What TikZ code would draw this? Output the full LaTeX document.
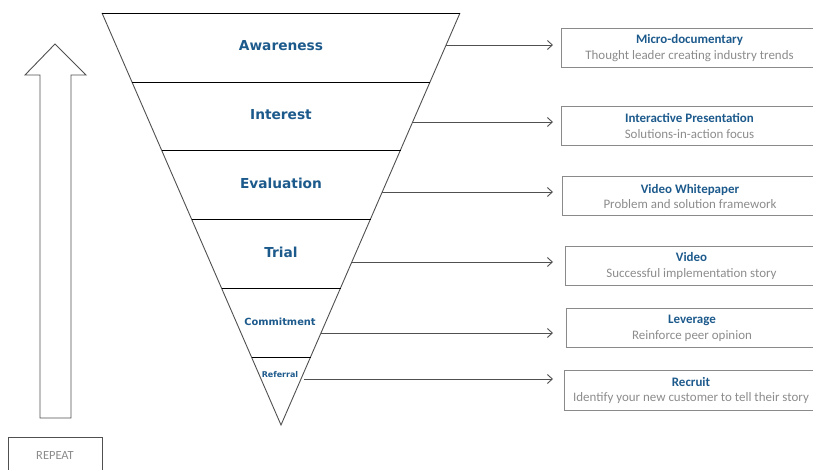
\documentclass[tikz,border=0pt]{standalone}
\usepackage{fontspec}
\setmainfont{Carlito}
\newfontfamily\stagefont{DejaVu Sans}
\usetikzlibrary{arrows.meta}
\definecolor{stageblue}{HTML}{1D5A8C}
\definecolor{softgray}{HTML}{8C8C8C}
\definecolor{boxgray}{HTML}{8A8A8A}
\definecolor{edgegray}{HTML}{505050}
\begin{document}
\begin{tikzpicture}[x=1bp,y=-1bp,
  stage/.style={font=\stagefont\bfseries\fontsize{#1}{#1}\selectfont, text=stageblue, inner sep=0pt},
  tactic/.style={draw=boxgray, line width=1bp, minimum width=#1, minimum height=39bp,
    anchor=west, align=center, inner sep=0pt, font=\fontsize{13}{16}\selectfont},
  feed/.style={draw=edgegray, line width=0.9bp, -{Straight Barb[length=5bp,width=9bp]}},
  divider/.style={draw=black, line width=0.9bp}]
\useasboundingbox (0,0) rectangle (813,470);
\clip (0,0) rectangle (813,470);

% funnel outline
\coordinate (tl) at (102,13);
\coordinate (tr) at (460,13);
\coordinate (apex) at (281,425);
\draw[edgegray, line width=0.9bp] (tl) -- (apex) -- (tr);
\draw[divider] (tl) -- (tr);

% stage dividers
\draw[divider] (132,82) -- (430,82);
\draw[divider] (161.5,150) -- (400.5,150);
\draw[divider] (191.5,219) -- (370.5,219);
\draw[divider] (221.5,288) -- (340.5,288);
\draw[divider] (251.5,357) -- (310.5,357);

% stage labels
\node[stage=13.8] (aware) at (281,46) {Awareness};
\node[stage=13.8] (inter) at (281,115) {Interest};
\node[stage=13.8] (evalu) at (281,183) {Evaluation};
\node[stage=13.8] (trial) at (281,252) {Trial};
\node[stage=9.9] (commit) at (280,322) {Commitment};
\node[stage=8] (refer) at (280,375) {Referral};

% tactic boxes
\newcommand{\tactic}[2]{{\bfseries\color{stageblue}#1}\\{\color{softgray}#2}}
\node[tactic=256bp] (b1) at (561,48) {\tactic{Micro-documentary}{Thought leader creating industry trends}};
\node[tactic=256bp] (b2) at (561,126) {\tactic{Interactive Presentation}{Solutions-in-action focus}};
\node[tactic=255bp] (b3) at (562,196.5) {\tactic{Video Whitepaper}{Problem and solution framework}};
\node[tactic=252bp] (b4) at (565,266) {\tactic{Video}{Successful implementation story}};
\node[tactic=251bp] (b5) at (566,328) {\tactic{Leverage}{Reinforce peer opinion}};
\node[tactic=253bp] (b6) at (564,390.5) {\tactic{Recruit}{Identify your new customer to tell their story}};

% connectors from the funnel edge toward each box
\coordinate (s1) at (446,45);   \coordinate (e1) at (553,45);
\coordinate (s2) at (412.6,122); \coordinate (e2) at (553,122);
\coordinate (s3) at (382.2,192); \coordinate (e3) at (553,192);
\coordinate (s4) at (351.8,262); \coordinate (e4) at (553,262);
\coordinate (s5) at (321,333);   \coordinate (e5) at (553,333);
\coordinate (s6) at (304,379);   \coordinate (e6) at (553,379);
\foreach \i in {1,...,6} {\draw[feed] (s\i) -- (e\i);}

% repeat arrow
\draw[edgegray, line width=0.9bp] (40,418) -- (40,75) -- (25,75) -- (55,44) -- (86,75) -- (71,75) -- (71,418) -- cycle;
\node[draw=edgegray, line width=0.9bp, minimum width=94bp, minimum height=45bp, anchor=north west,
  inner sep=0pt] (rep) at (8,437) {};
\node[text=softgray, font=\fontsize{12.5}{14}\selectfont, inner sep=0pt] (reptext) at (55,456) {REPEAT};
\end{tikzpicture}
\end{document}
